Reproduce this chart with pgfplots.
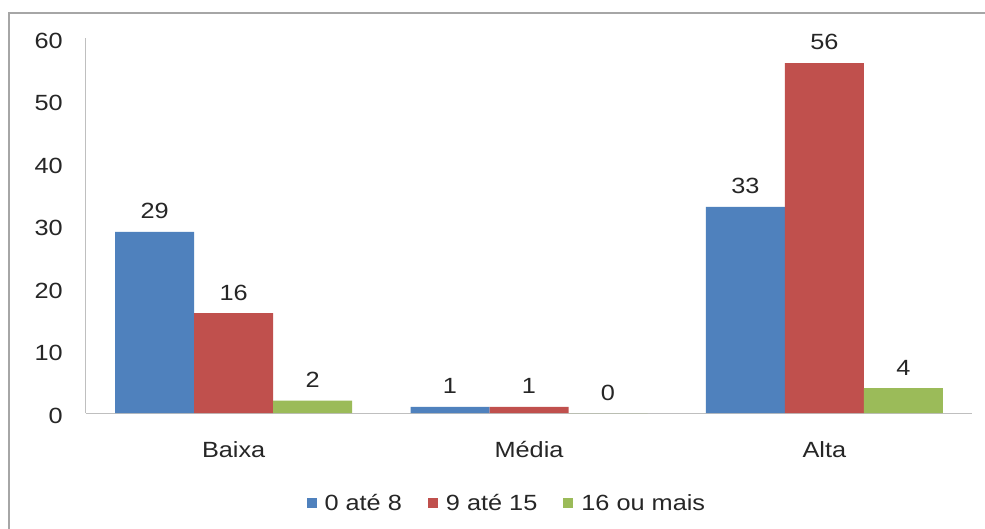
\documentclass[border=0pt]{standalone}
\usepackage{fontspec}
\setmainfont{Liberation Sans}[FakeStretch=1.15]
\usepackage{pgfplots}
\pgfplotsset{compat=1.18}
\definecolor{cblue}{HTML}{4F81BD}
\definecolor{cred}{HTML}{C0504D}
\definecolor{cgreen}{HTML}{9BBB59}
\newcommand\cf{\fontsize{22}{26}\selectfont}
\begin{document}
\begin{tikzpicture}
\path[use as bounding box, fill=white] (-86pt,-115pt) rectangle (899pt,413pt);
\draw[gray!70, line width=1.5pt] (-77pt,-116pt) -- (-77pt,400pt) -- (900pt,400pt);
\begin{axis}[
  at={(0pt,0pt)}, anchor=south west,
  scale only axis, width=886pt, height=375pt,
  xmin=-0.5, xmax=2.5, ymin=0, ymax=60,
  ybar, bar width=79pt,
  xtick={0,1,2}, xticklabels={Baixa,Média,Alta},
  ytick={0,10,20,30,40,50,60},
  axis x line*=bottom, axis y line*=left,
  axis line style={gray!50, line width=1pt, -},
  major tick length=0pt, tick style={draw=none},
  /pgf/number format/assume math mode=true,
  ticklabel style={font=\cf, text=black!85, inner sep=0pt},
  yticklabel style={anchor=base east, xshift=-23pt, yshift=-10pt},
  xticklabel style={anchor=base, yshift=-44pt},
  nodes near coords,
  every node near coord/.append style={font=\cf, text=black!85, anchor=base, inner sep=0pt, yshift=13pt},
  legend style={draw=none, fill=none, font=\cf, text=black!85,
    at={(0.475,-0.24)}, anchor=center, legend columns=3,
    /tikz/every even column/.append style={column sep=24pt}},
  legend image code/.code={\fill[#1] (0pt,-5pt) rectangle (10pt,5pt); \path (16pt,0pt);},
]
\addplot[fill=cblue, draw=none, bar shift=-79pt] coordinates {(0,29) (1,1) (2,33)};
\addplot[fill=cred, draw=none, bar shift=0pt] coordinates {(0,16) (1,1) (2,56)};
\addplot[fill=cgreen, draw=none, bar shift=79pt] coordinates {(0,2) (1,0) (2,4)};
\legend{0 até 8, 9 até 15, 16 ou mais}
\end{axis}
\end{tikzpicture}
\end{document}
